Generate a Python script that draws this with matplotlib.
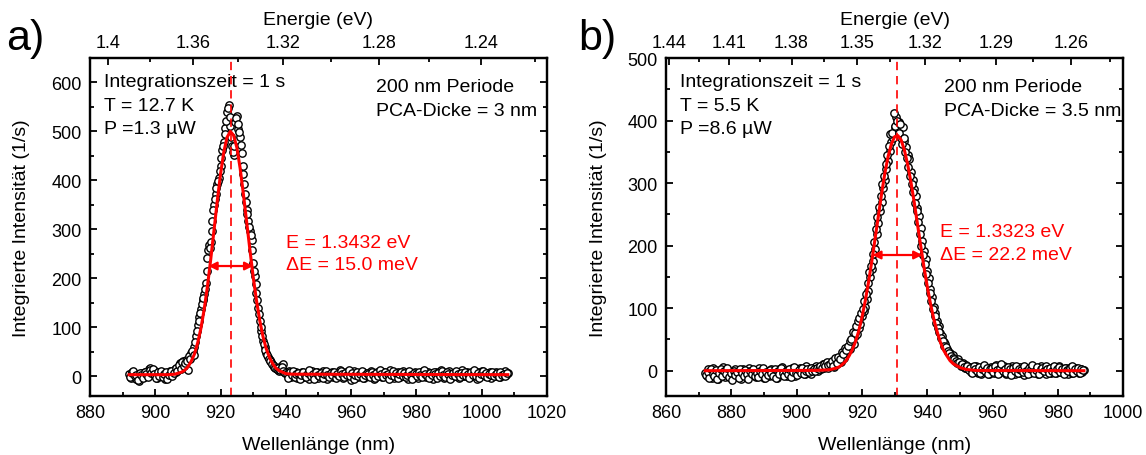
import numpy as np
import matplotlib
matplotlib.use('Agg')
import matplotlib.pyplot as plt
from matplotlib.ticker import MultipleLocator

plt.rcParams['font.family'] = ['Liberation Sans', 'DejaVu Sans']

HC = 1239.84  # eV*nm

# ---- panel a: measured spectrum, two interleaved 0.5 nm grids ----
wl_a_start = 892.0
counts_a = [
    4, -3, 8, 2, -6, 5, -9, 1, 6, -2, 9, 3, 14, 17, 8, 2, 10, -4, 6, 0,
    9, 3, -5, 7, 2, 11, 4, 9, 14, 8, 19, 27, 22, 31, 24, 34, 12, 38, 47, 52,
    60, 81, 104, 121, 138, 155, 168, 190, 242, 268, 275, 318, 350, 372, 392, 405, 430, 462, 478, 508,
    540, 555, 512, 470, 452, 520, 532, 505, 488, 455, 412, 372, 340, 318, 296, 278, 232, 205, 170, 140,
    112, 92, 72, 60, 48, 40, 33, 28, 22, 18, 16, 13, 11, 20, 24, 9, 7, 4, 10, -2,
    6, 1, 8, -4, 5, 3, 9, -1, 2, 7, -6, 4, 10, 0, 3, 8, -3, 5, 1, 11,
    2, -5, 6, 4, 9, -2, 3, 7, 0, 12, 5, -4, 2, 8, 1, 6, -7, 4, 10, 3,
    -1, 7, 2, 9, -3, 5, 0, 6, 11, 2, -5, 4, 8, 1, 3, -2, 9, 5, 0, 7,
    12, 3, -4, 6, 2, 8, -1, 4, 10, 1, 5, -6, 3, 7, 0, 9, 2, -3, 6, 4,
    11, 1, -2, 8, 3, 5, -5, 2, 9, 0, 6, 13, 4, -3, 7, 1, 10, 3, -1, 5,
    8, 2, -4, 6, 12, 0, 4, 9, -2, 3, 7, 1, 5, -6, 8, 2, 11, 4, 0, 6,
    3, 9, -3, 5, 1, 8, 2, -1, 7, 4, 10, 3, 6,
]
wl_a2_start = 892.25
counts_a2 = [
    -2, 6, 11, 0, 3, -8, 7, 2, -4, 9, 5, -1, 12, 6, 15, 4, -3, 8, 1, 11,
    -2, 5, 8, -6, 3, 10, 1, 6, 17, 11, 23, 15, 29, 20, 26, 30,
    41, 35, 52, 44, 70, 92, 112, 130, 148, 160, 178, 215, 258, 262, 296, 340, 362, 385, 398, 420,
    445, 470, 495, 522, 548, 530, 488, 458, 470, 528, 515, 498, 472, 430, 392, 355, 332, 305, 288, 258,
    215, 188, 155, 126, 101, 82, 66, 53, 44, 36, 30, 25, 20, 17, 14, 16, 12, 18, 10, 6,
    5, -3, 8, 2, 10, -1, 4, 7, -5, 3, 9, 1, -2, 6, 12, 0, 4, -6, 8, 3,
    1, 7, -4, 5, 10, 2, -1, 6, 3, 9, -3, 4, 0, 11, 5, -2, 7, 2, 13, 1,
    6, -5, 3, 8, 0, 4, 10, -3, 2, 7, 5, -1, 9, 3, -4, 6, 1, 12, 4, -2,
    8, 2, 5, -6, 3, 10, 0, 6, -3, 4, 9, 1, 7, -1, 3, 11, 2, -5, 6, 4,
    0, 8, 3, -2, 12, 5, 1, -4, 7, 2, 9, 4, -3, 6, 0, 10, 3, -1, 8, 5,
    -6, 2, 7, 1, 11, 4, -2, 6, 3, 9, 0, 5, -4, 8, 2, 13, 1, 6, -3, 4,
    10, 2, 7, -1, 5, 3, 9, 0, 4, 6, -2, 8, 3, 5, 1, 7,
]
fit_wl_a = [892, 904, 906, 908, 909, 910, 911, 912, 913, 914, 915, 916, 917, 918, 919, 920,
            921, 922, 923, 924, 925, 926, 927, 928, 929, 930, 931, 932, 933, 934, 935, 936,
            937, 938, 940, 942, 1008]
fit_a = [3, 3, 4, 8, 12, 19, 30, 45, 68, 98, 137, 184, 239, 298, 358, 413,
         458, 488, 500, 492, 467, 425, 372, 315, 258, 203, 155, 114, 81, 56, 38, 25,
         16, 11, 5, 4, 3]
peak_a = 923.1
fwhm_a = (916.3, 930.0)
arrow_y_a = 225

# ---- panel b: measured spectrum, two interleaved 0.5 nm grids ----
wl_b_start = 872.0
counts_b = [
    -4, -9, 2, -6, -12, 5, -2, -8, -14, 1, -5, 6, -10, -3, -7, 0, -11, -4, 3, -8,
    -2, -6, -13, 2, -5, -1, -9, 4, -7, -3, 1, -10, -4, 5, -6, -2, -12, -5, 0, -8,
    3, -3, -7, -1, -11, 2, -4, 6, -6, -2, -9, 1, -5, 4, -3, -8, 0, -1, 5, -4,
    2, -6, 7, -2, 3, -5, 4, 1, 8, 0, 6, 3, 10, 5, 12, 4, 9, 8, 12, 6,
    15, 10, 18, 14, 24, 20, 28, 32, 38, 35, 45, 42, 55, 58, 68, 75, 88, 95, 102, 115,
    128, 150, 162, 175, 195, 218, 236, 256, 270, 292, 305, 322, 335, 352, 365, 372, 390, 405, 385, 398,
    372, 390, 368, 358, 345, 338, 318, 305, 290, 280, 260, 248, 228, 208, 192, 178, 160, 148, 130, 118,
    102, 92, 80, 72, 60, 55, 46, 42, 35, 30, 28, 22, 25, 16, 14, 18, 10, 8, 12, 4,
    9, 3, 6, -2, 5, 1, 8, -3, 4, -6, 2, 7, -1, 3, -5, 6, 0, -3, 9, 2,
    -4, 5, -1, 7, -6, 3, 0, -2, 8, 1, -5, 4, -3, 6, 2, -7, 3, 0, 5, -4,
    7, 1, -2, 4, -6, 2, 8, -1, 3, -5, 5, 0, -3, 6, 1, -4, 3, 7, -2, 2,
    -1, 4, -5, 1, 6, -3, 2, 5, 0, -4, 3, -2, 1,
]
wl_b2_start = 872.25
counts_b2 = [
    -7, -2, -11, 3, -5, -9, 1, -13, -4, 2, -8, -1, -6, 4, -10, -3, -15, 0, -7, -2,
    -12, 2, -4, -9, 1, -6, -14, -1, -5, 3, -8, -3, -10, 0, -6, 4, -11, -2, -7, 1,
    -4, -9, 2, -12, -1, -6, 5, -3, -8, 0, -5, 3, -10, -2, 6, -4, -7, 1, -3, 4,
    -6, 0, 3, -2, 5, -1,
    2, -1, 5, 3, 8, 4, 11, 7, 14, 9,
    10, 16, 8, 20, 13, 22, 18, 30, 26, 36, 33, 40, 48, 50, 62, 60, 72, 80, 85, 92,
    99, 112, 122, 140, 158, 168, 186, 205, 226, 246, 262, 280, 298, 312, 330, 345, 360, 378, 380, 412,
    392, 400, 380, 395, 362, 372, 350, 340, 325, 312, 298, 285, 268, 255, 238, 218, 200, 185, 170, 155,
    140, 125, 112, 98, 88, 76, 68, 62, 52, 48, 40, 38, 32, 28, 24, 20, 19, 15, 12, 14,
    9, 11, 6, 4, 8, 1, 5, -3, 7, 2, 0, 6, -4, 3, 9, -1, 4, -6, 2, 5,
    -2, 8, 1, -5, 4, 10, -1, 3, -3, 6, 2, -7, 5, 0, 7, -4, 3, 1, -2, 8,
    0, -5, 4, 2, 9, -3, 1, 6, -6, 3, 5, -1, 7, 2, -4, 4, 0, 8, -3, 2,
    6, -2, 3, -5, 5, 1, -1, 4, 7, -3, 2, 0, 5, -4, 3, 1,
]
fit_wl_b = [872, 906, 910, 912, 913, 914, 915, 916, 917, 918, 919, 920, 921, 922, 923, 924,
            925, 926, 927, 928, 929, 930, 931, 932, 933, 934, 935, 936, 937, 938, 939, 940,
            941, 942, 943, 944, 945, 946, 947, 948, 950, 952, 955, 988]
fit_b = [0, 0.5, 1.4, 4, 6, 10, 15, 23, 33, 46, 63, 85, 111, 141, 174, 210,
         246, 282, 315, 342, 362, 374, 376, 369, 353, 330, 302, 270, 235, 200, 166, 135,
         107, 83, 63, 46, 33, 24, 16, 11, 5, 2, 0.3, 0]
peak_b = 930.7
fwhm_b = (923.2, 938.5)
arrow_y_b = 185

fig = plt.figure(figsize=(11.46, 4.56), dpi=100)
ax_a = fig.add_axes([0.0785, 0.130, 0.3988, 0.7406])
ax_b = fig.add_axes([0.5812, 0.130, 0.3988, 0.7406])

TICK_FS = 13
LABEL_FS = 14
TEXT_FS = 14


def draw_panel(ax, series, fit_wl, fit_y, peak, fwhm, arrow_y,
               xlim, ylim, e_major, e_minor, left_txt, right_txt, red_txt, red_pos, right_x):
    for wl0, counts in series:
        wl = wl0 + 0.5 * np.arange(len(counts))
        ax.plot(wl, counts, 'o', ms=5.3, mfc='white', mec='black', mew=1.0, zorder=2)
    ax.plot(fit_wl, fit_y, color='#ff0000', lw=2.2, zorder=3)
    ax.axvline(peak, color='#ff0000', lw=1.2, ls=(0, (5, 3.5)), zorder=4)
    ax.annotate('', xy=(fwhm[0], arrow_y), xytext=(fwhm[1], arrow_y),
                arrowprops=dict(arrowstyle='<|-|>', color='#ff0000', lw=1.6,
                                mutation_scale=12, shrinkA=0, shrinkB=0), zorder=5)
    ax.set_xlim(*xlim)
    ax.set_ylim(*ylim)
    ax.xaxis.set_major_locator(MultipleLocator(20))
    ax.xaxis.set_minor_locator(MultipleLocator(10))
    ax.yaxis.set_major_locator(MultipleLocator(100))
    ax.yaxis.set_minor_locator(MultipleLocator(50))
    ax.tick_params(which='both', direction='in', right=True, top=False,
                   labelsize=TICK_FS, width=1.3, pad=6)
    ax.tick_params(which='major', length=5)
    ax.tick_params(which='minor', length=3)
    for s in ax.spines.values():
        s.set_linewidth(1.6)
    ax.set_xlabel('Wellenlänge (nm)', fontsize=LABEL_FS, labelpad=11)
    ax.set_ylabel('Integrierte Intensität (1/s)', fontsize=LABEL_FS, labelpad=15)

    top = ax.twiny()
    top.set_xlim(*xlim)
    top.set_xticks([HC / e for e in e_major])
    top.set_xticklabels([f'{e:g}' for e in e_major])
    top.set_xticks([HC / e for e in e_minor], minor=True)
    top.tick_params(which='both', direction='in', labelsize=TICK_FS, width=1.3, pad=5)
    top.tick_params(which='major', length=5)
    top.tick_params(which='minor', length=3)
    top.set_xlabel('Energie (eV)', fontsize=LABEL_FS, labelpad=7)
    for s in top.spines.values():
        s.set_linewidth(1.6)

    ax.text(0.03, 0.955, left_txt, transform=ax.transAxes, fontsize=TEXT_FS,
            va='top', ha='left', linespacing=1.5)
    ax.text(right_x, 0.94, right_txt, transform=ax.transAxes, fontsize=TEXT_FS,
            va='top', ha='left', linespacing=1.5)
    ax.text(red_pos[0], red_pos[1], red_txt, transform=ax.transAxes, fontsize=TEXT_FS,
            va='top', ha='left', color='#ff0000', linespacing=1.4)


draw_panel(ax_a, [(wl_a_start, counts_a), (wl_a2_start, counts_a2)],
           fit_wl_a, fit_a, peak_a, fwhm_a, arrow_y_a,
           (880, 1020), (-40, 650),
           [1.40, 1.36, 1.32, 1.28, 1.24],
           [1.38, 1.34, 1.30, 1.26, 1.22],
           'Integrationszeit = 1 s\nT = 12.7 K\nP =1.3 µW',
           '200 nm Periode\nPCA-Dicke = 3 nm',
           'E = 1.3432 eV\n\u0394E = 15.0 meV', (0.43, 0.48), 0.626)

draw_panel(ax_b, [(wl_b_start, counts_b), (wl_b2_start, counts_b2)],
           fit_wl_b, fit_b, peak_b, fwhm_b, arrow_y_b,
           (860, 1000), (-40, 500),
           [1.44, 1.41, 1.38, 1.35, 1.32, 1.29, 1.26],
           [1.425, 1.395, 1.365, 1.335, 1.305, 1.275, 1.245],
           'Integrationszeit = 1 s\nT = 5.5 K\nP =8.6 µW',
           '200 nm Periode\nPCA-Dicke = 3.5 nm',
           'E = 1.3323 eV\n\u0394E = 22.2 meV', (0.6, 0.51), 0.608)

fig.text(0.005, 0.915, 'a)', fontsize=31, va='center', ha='left')
fig.text(0.505, 0.915, 'b)', fontsize=31, va='center', ha='left')

fig.savefig('out.png', dpi=100)
